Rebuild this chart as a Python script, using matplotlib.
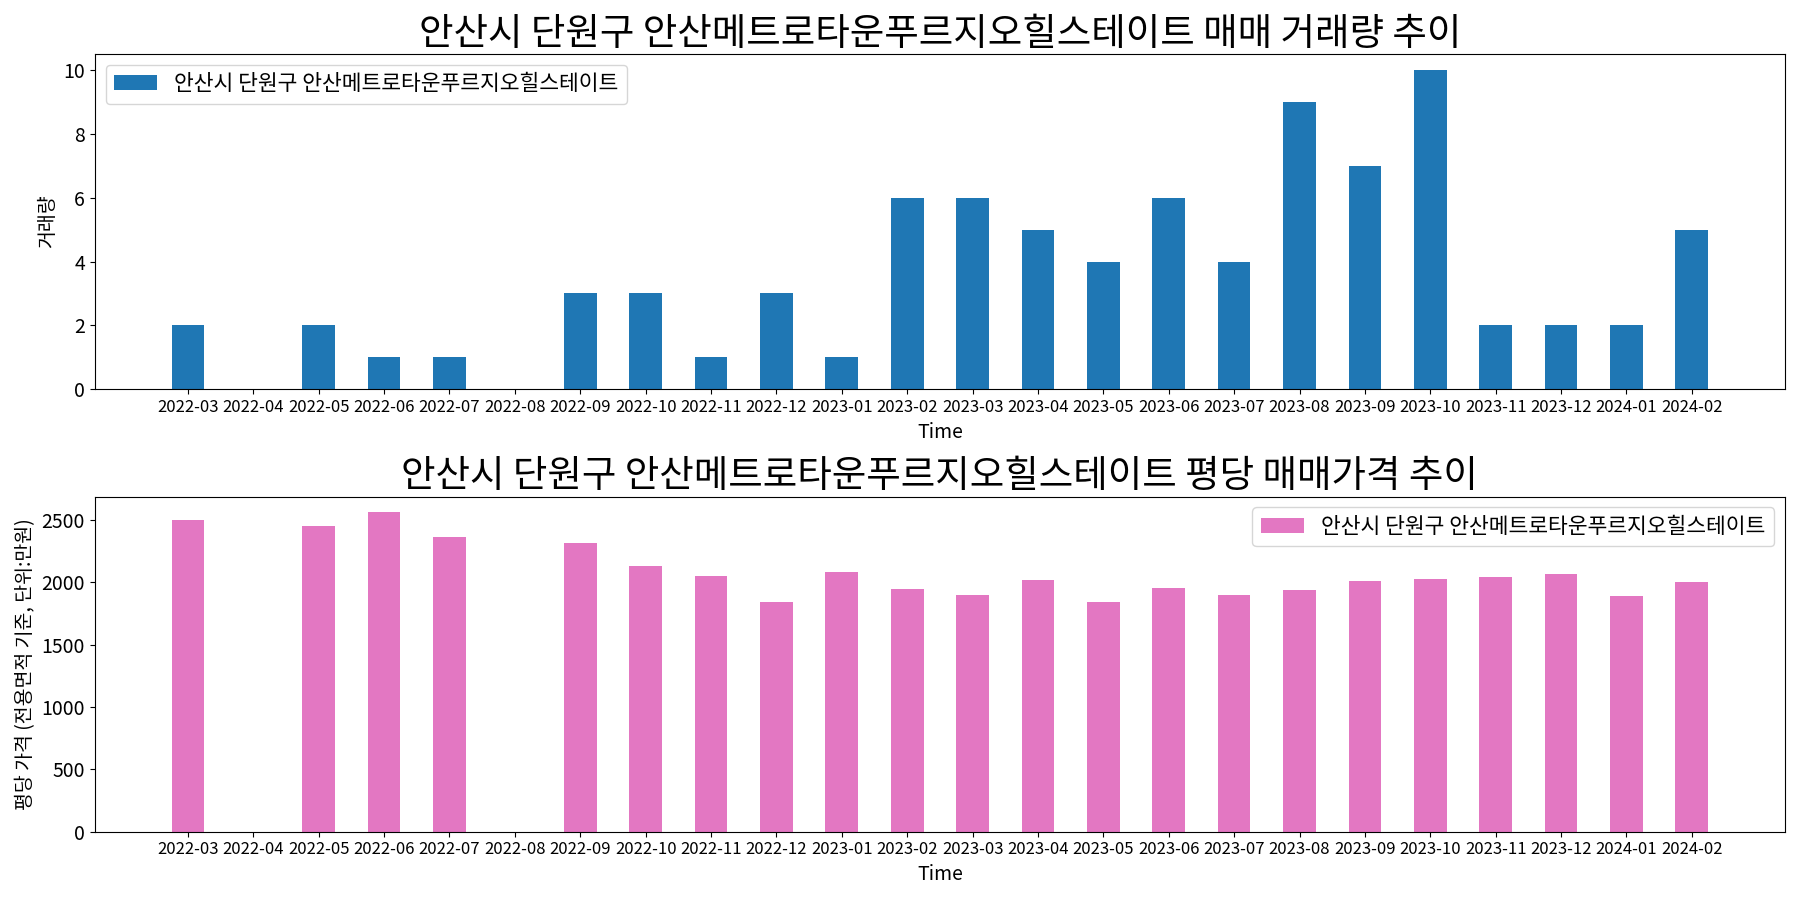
import numpy as np
import matplotlib.pyplot as plt

plt.rcParams['font.family'] = ['Noto Sans CJK KR', 'DejaVu Sans']
plt.rcParams['axes.unicode_minus'] = False

apt_name = "안산시 단원구 안산메트로타운푸르지오힐스테이트"

months = ["2022-03", "2022-04", "2022-05", "2022-06", "2022-07", "2022-08",
          "2022-09", "2022-10", "2022-11", "2022-12", "2023-01", "2023-02",
          "2023-03", "2023-04", "2023-05", "2023-06", "2023-07", "2023-08",
          "2023-09", "2023-10", "2023-11", "2023-12", "2024-01", "2024-02"]

volume = [2, 0, 2, 1, 1, 0, 3, 3, 1, 3, 1, 6,
          6, 5, 4, 6, 4, 9, 7, 10, 2, 2, 2, 5]

# price per pyeong (10k won); no trades in 2022-04 and 2022-08
price = [2500, np.nan, 2447, 2558, 2361, np.nan, 2313, 2132, 2045, 1840, 2084, 1942,
         1895, 2013, 1840, 1950, 1895, 1934, 2005, 2021, 2037, 2061, 1887, 1997]

x = np.arange(len(months))

fig, (ax1, ax2) = plt.subplots(2, 1, figsize=(18, 9), dpi=100)

# Volume chart
ax1.bar(x, volume, width=0.5, color="#1f77b4", label=apt_name)
ax1.set_title(f"{apt_name} 매매 거래량 추이", fontsize=27)
ax1.set_xlabel("Time", fontsize=14)
ax1.set_ylabel("거래량", fontsize=14)
ax1.set_xticks(x)
ax1.set_xticklabels(months, fontsize=12)
ax1.tick_params(axis="y", labelsize=14)
ax1.legend(loc="upper left", fontsize=15.5)

# Price chart
ax2.bar(x, price, width=0.5, color="#e377c2", label=apt_name)
ax2.set_title(f"{apt_name} 평당 매매가격 추이", fontsize=27)
ax2.set_xlabel("Time", fontsize=14)
ax2.set_ylabel("평당 가격 (전용면적 기준, 단위:만원)", fontsize=14)
ax2.set_xticks(x)
ax2.set_xticklabels(months, fontsize=12)
ax2.tick_params(axis="y", labelsize=14)
ax2.legend(loc="upper right", fontsize=15.5)

plt.tight_layout()
plt.savefig("out.png", dpi=100)
